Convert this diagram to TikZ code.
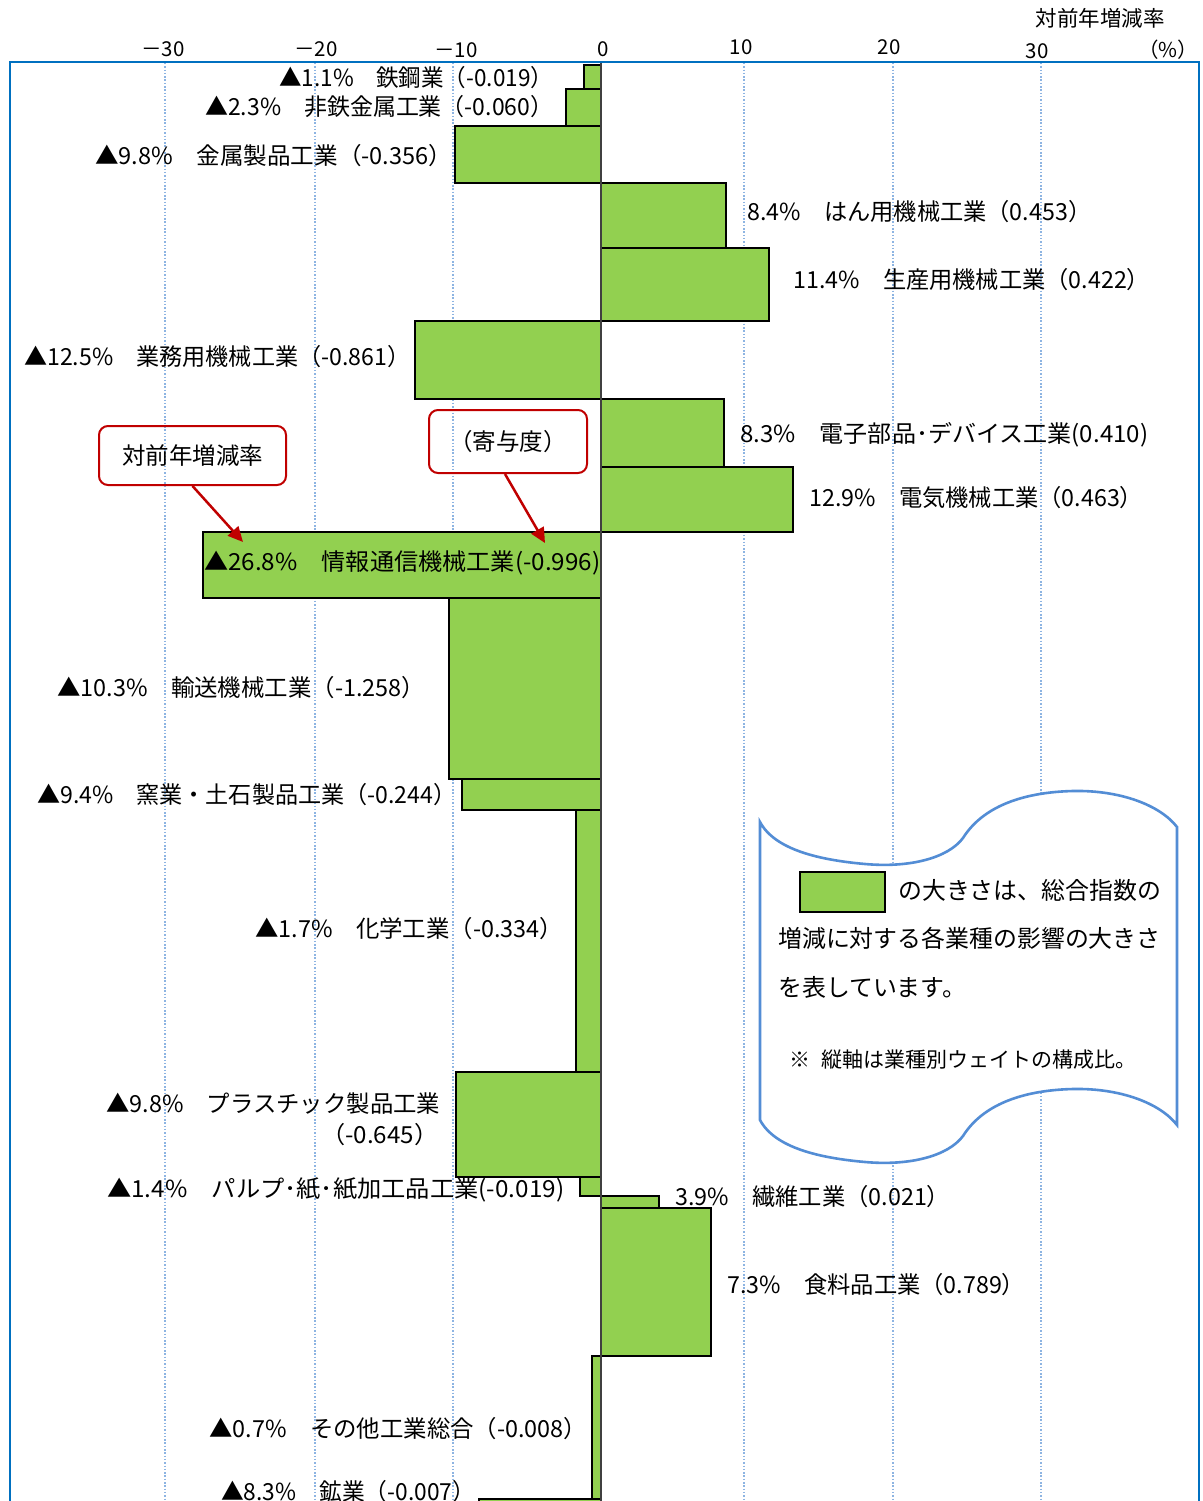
\documentclass[tikz,border=0pt]{standalone}
\usepackage{fontspec}
\usepackage{graphicx}
\usetikzlibrary{arrows.meta}
\newfontfamily\jp{Noto Sans CJK JP}
\definecolor{barg}{RGB}{146,208,80}
\definecolor{gridc}{RGB}{141,180,226}
\definecolor{framec}{RGB}{0,112,192}
\definecolor{legc}{RGB}{83,141,213}
\definecolor{callc}{RGB}{192,0,0}
\definecolor{axisc}{RGB}{64,64,64}
\newcommand\fitlab[2]{\resizebox{#1pt}{\height}{#2}}
\begin{document}
\begin{tikzpicture}[x=1pt,y=-1pt,
  gridln/.style={gridc, line width=1.3pt, dash pattern=on 1.5pt off 1.8pt},
  barbox/.style={draw=black, line width=2.2pt, fill=barg},
  lab/.style={font=\jp\fontsize{23.5}{28}\selectfont, inner sep=0pt},
  axlab/.style={font=\jp\fontsize{20.5}{24}\selectfont, inner sep=0pt},
  callbox/.style={draw=callc, line width=2pt, rounded corners=9pt, font=\jp\fontsize{23.5}{28}\selectfont, inner sep=0pt},
  callarrow/.style={callc, line width=2.5pt, -{Triangle[length=15pt,width=14pt]}},
  legtext/.style={font=\jp\fontsize{23.9}{28}\selectfont, inner sep=0pt, anchor=west}
]
\useasboundingbox (0,0) rectangle (1202,1501);
\fill[white] (0,0) rectangle (1202,1501);

% gridlines
\foreach \gx in {165,315,453,744,893,1041}{
  \draw[gridln] (\gx,63) -- (\gx,1501);
}

% bars
\draw[barbox] (584,65) rectangle (601,89);
\draw[barbox] (566,89) rectangle (601,126);
\draw[barbox] (455,126) rectangle (601,183);
\draw[barbox] (601,183) rectangle (726,248);
\draw[barbox] (601,248) rectangle (769,321);
\draw[barbox] (415,321) rectangle (601,399);
\draw[barbox] (601,399) rectangle (724,467);
\draw[barbox] (601,467) rectangle (793,532);
\draw[barbox] (203,532) rectangle (601,598);
\draw[barbox] (449,598) rectangle (601,779);
\draw[barbox] (462,779) rectangle (601,810);
\draw[barbox] (576,810) rectangle (601,1072);
\draw[barbox] (456,1072) rectangle (601,1177);
\draw[barbox] (580,1177) rectangle (601,1196);
\draw[barbox] (601,1196) rectangle (659,1208);
\draw[barbox] (601,1208) rectangle (711,1356);
\draw[barbox] (592,1356) rectangle (601,1499);
\draw[barbox] (479,1499) rectangle (601,1560);

% zero axis
\draw[axisc, line width=2.6pt] (601,63) -- (601,1501);

% frame
\draw[framec, line width=2.6pt] (10,1520) -- (10,62) -- (1199,62) -- (1199,1520);

% axis labels
\node[axlab] (ax1) at (163,49) {－30};
\node[axlab] (ax2) at (316,49) {－20};
\node[axlab] (ax3) at (456,50) {－10};
\node[axlab] (ax4) at (603,49) {0};
\node[axlab] (ax5) at (741,47) {10};
\node[axlab] (ax6) at (889,47) {20};
\node[axlab] (ax7) at (1037,51) {30};
\node[axlab] (ax8) at (1168,50) {（\%）};
\node[axlab, font=\jp\fontsize{21.5}{24}\selectfont] (axt) at (1100,18) {対前年増減率};

% bar labels
\node[lab, anchor=west] (l1) at (279,78) {\fitlab{274}{▲1.1\%　鉄鋼業（-0.019）}};
\node[lab, anchor=west] (l2) at (205,107) {\fitlab{348}{▲2.3\%　非鉄金属工業（-0.060）}};
\node[lab, anchor=west] (l3) at (95,156) {\fitlab{357}{▲9.8\%　金属製品工業（-0.356）}};
\node[lab, anchor=west] (l4) at (747,212) {\fitlab{344}{8.4\%　はん用機械工業（0.453）}};
\node[lab, anchor=west] (l5) at (793,280) {\fitlab{357}{11.4\%　生産用機械工業（0.422）}};
\node[lab, anchor=west] (l6) at (24,357) {\fitlab{386}{▲12.5\%　業務用機械工業（-0.861）}};
\node[lab, anchor=west] (l7) at (740,435) {\fitlab{408}{8.3\%　電子部品･デバイス工業(0.410)}};
\node[lab, anchor=west] (l8) at (809,498) {\fitlab{334}{12.9\%　電気機械工業（0.463）}};
\node[lab, anchor=west] (l9) at (204,563) {\fitlab{396}{▲26.8\%　情報通信機械工業(-0.996)}};
\node[lab, anchor=west] (l10) at (57,688) {\fitlab{368}{▲10.3\%　輸送機械工業（-1.258）}};
\node[lab, anchor=west] (l11) at (37,795) {\fitlab{419}{▲9.4\%　窯業・土石製品工業（-0.244）}};
\node[lab, anchor=west] (l12) at (255,929) {\fitlab{308}{▲1.7\%　化学工業（-0.334）}};
\node[lab, anchor=west] (l13) at (106,1104) {\fitlab{334}{▲9.8\%　プラスチック製品工業}};
\node[lab, anchor=west] (l13b) at (321,1135) {\fitlab{117}{（-0.645）}};
\node[lab, anchor=west] (l14) at (107,1190) {\fitlab{457}{▲1.4\%　パルプ･紙･紙加工品工業(-0.019)}};
\node[lab, anchor=west] (l15) at (675,1197) {\fitlab{275}{3.9\%　繊維工業（0.021）}};
\node[lab, anchor=west] (l16) at (727,1285) {\fitlab{298}{7.3\%　食料品工業（0.789）}};
\node[lab, anchor=west] (l17) at (209,1429) {\fitlab{378}{▲0.7\%　その他工業総合（-0.008）}};
\node[lab, anchor=west] (l18) at (221,1492) {\fitlab{254}{▲8.3\%　鉱業（-0.007）}};

% callouts
\node[callbox, minimum width=187pt, minimum height=59pt] (c1) at (192.5,455.5) {対前年増減率};
\node[callbox, minimum width=158pt, minimum height=63pt] (c2) at (508,441.5) {（寄与度）};
\coordinate (t1) at (243,542);
\coordinate (t2) at (545,543);
\draw[callarrow] (c1.south) -- (t1);
\draw[callarrow] ([xshift=-3pt]c2.south) -- (t2);

% legend scroll
\draw[legc, line width=2.6pt, fill=white]
  (760,822) .. controls (775,850) and (820,860) .. (865,864)
  .. controls (910,868) and (948,858) .. (963,838)
  .. controls (985,803) and (1030,792) .. (1073,791)
  .. controls (1120,790) and (1160,805) .. (1177,827)
  -- (1177,1125)
  .. controls (1160,1103) and (1120,1088) .. (1073,1089)
  .. controls (1030,1090) and (985,1101) .. (963,1136)
  .. controls (948,1156) and (910,1166) .. (865,1162)
  .. controls (820,1158) and (775,1148) .. (760,1120) -- cycle;
\draw[black, line width=2.4pt, fill=barg] (800,872) rectangle (885,912);
\node[legtext] (g1) at (898,890) {の大きさは、総合指数の};
\node[legtext] (g2) at (778,938) {増減に対する各業種の影響の大きさ};
\node[legtext] (g3) at (778,987) {を表しています。};
\node[legtext, font=\jp\fontsize{21}{24}\selectfont] (g4) at (789,1060) {※\hspace{11pt}縦軸は業種別ウェイトの構成比。};
\end{tikzpicture}
\end{document}
